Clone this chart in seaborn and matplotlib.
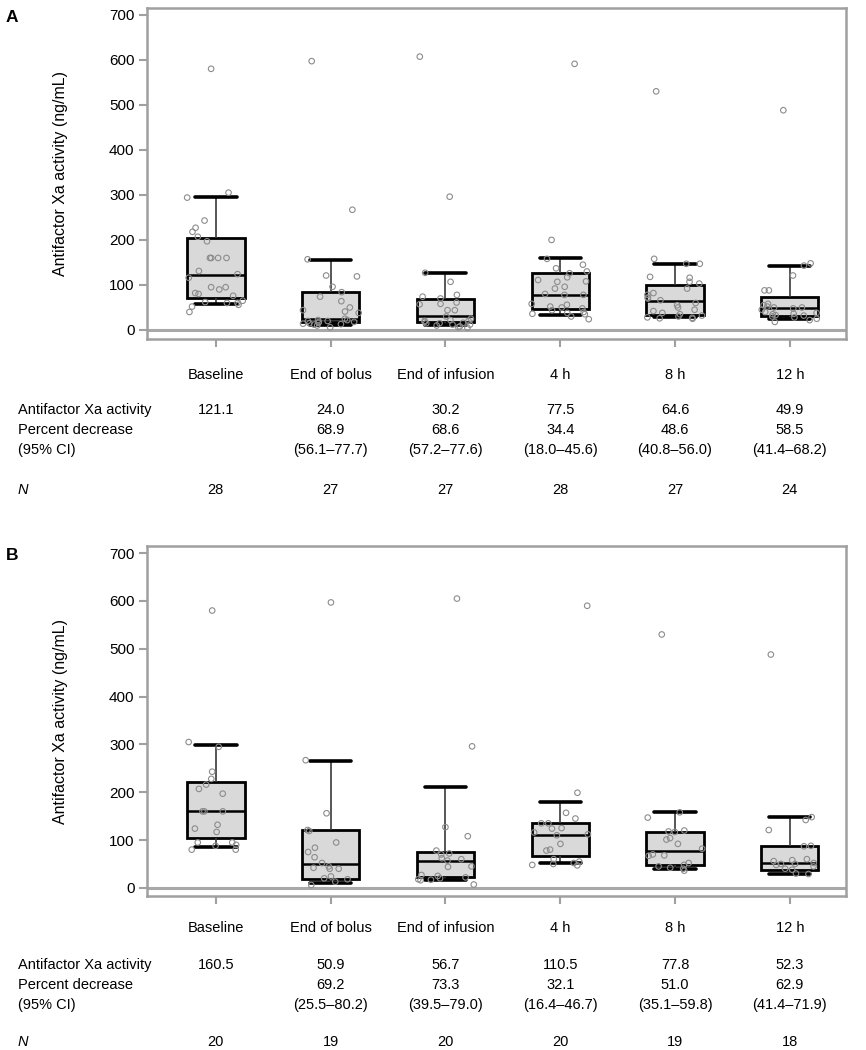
import numpy as np
import pandas as pd
import matplotlib
matplotlib.use("Agg")
import matplotlib.pyplot as plt
import matplotlib.transforms as mtransforms
import seaborn as sns

# 时间点
times = ["Baseline", "End of bolus", "End of infusion", "4 h", "8 h", "12 h"]

# 箱线图五数概括 (下须, Q1, 中位数, Q3, 上须)
box_a_lo = [58, 12, 12, 34, 29, 25]
box_a_q1 = [70, 18, 18, 47, 34, 31]
box_a_med = [121.1, 24.0, 30.2, 77.5, 64.6, 49.9]
box_a_q3 = [204, 84, 68, 126, 101, 73]
box_a_hi = [295, 156, 127, 159, 147, 143]

box_b_lo = [86, 11, 16, 51, 39, 28]
box_b_q1 = [105, 19, 22, 67, 48, 37]
box_b_med = [160.5, 50.9, 56.7, 110.5, 77.8, 52.3]
box_b_q3 = [221, 120, 74, 136, 116, 88]
box_b_hi = [299, 265, 211, 179, 158, 148]

# 个体数据点 (估计值)
pts_a = {
    "Baseline": [580, 305, 294, 243, 227, 218, 207, 197, 160, 160, 160, 160, 131, 124,
                 116, 95, 95, 90, 82, 80, 76, 65, 62, 60, 60, 56, 52, 40],
    "End of bolus": [597, 267, 157, 121, 119, 96, 84, 74, 64, 50, 44, 41, 38, 25, 22, 22,
                     20, 20, 18, 18, 16, 15, 14, 13, 12, 10, 6],
    "End of infusion": [607, 296, 127, 107, 78, 74, 70, 61, 58, 57, 44, 44, 30, 25, 22,
                        20, 20, 18, 16, 15, 15, 12, 10, 8, 6, 5, 12],
    "4 h": [591, 200, 158, 145, 137, 130, 126, 117, 111, 108, 107, 96, 92, 80, 78, 78,
            58, 56, 52, 50, 48, 44, 40, 38, 36, 35, 30, 24],
    "8 h": [530, 158, 147, 147, 118, 116, 107, 103, 92, 82, 78, 72, 70, 66, 60, 55, 50,
            45, 42, 38, 35, 32, 30, 28, 27, 26, 25],
    "12 h": [488, 148, 143, 121, 88, 88, 58, 55, 52, 50, 50, 48, 45, 40, 38, 36, 35, 33,
             32, 30, 28, 25, 22, 18],
}
pts_b = {
    "Baseline": [580, 305, 295, 243, 228, 216, 207, 197, 160, 160, 160, 132, 124, 117,
                 95, 95, 90, 88, 80, 80],
    "End of bolus": [597, 267, 156, 121, 119, 95, 84, 75, 64, 52, 45, 42, 40, 40, 24, 20,
                     18, 13, 6],
    "End of infusion": [605, 296, 127, 108, 78, 72, 70, 62, 60, 57, 45, 44, 27, 25, 22,
                        20, 18, 17, 16, 7],
    "4 h": [590, 199, 157, 145, 135, 135, 125, 124, 116, 112, 110, 92, 80, 78, 60, 55,
            52, 50, 48, 47],
    "8 h": [530, 158, 147, 120, 118, 117, 104, 101, 92, 82, 70, 68, 67, 52, 48, 45, 42,
            40, 36],
    "12 h": [488, 148, 142, 121, 88, 87, 60, 58, 56, 52, 50, 50, 48, 45, 40, 38, 30, 29],
}

# 表格
act_a = ["121.1", "24.0", "30.2", "77.5", "64.6", "49.9"]
pct_a = ["", "68.9", "68.6", "34.4", "48.6", "58.5"]
ci_a = ["", "(56.1\u201377.7)", "(57.2\u201377.6)", "(18.0\u201345.6)", "(40.8\u201356.0)", "(41.4\u201368.2)"]
n_a = ["28", "27", "27", "28", "27", "24"]

act_b = ["160.5", "50.9", "56.7", "110.5", "77.8", "52.3"]
pct_b = ["", "69.2", "73.3", "32.1", "51.0", "62.9"]
ci_b = ["", "(25.5\u201380.2)", "(39.5\u201379.0)", "(16.4\u201346.7)", "(35.1\u201359.8)", "(41.4\u201371.9)"]
n_b = ["20", "19", "20", "20", "19", "18"]

yticks = [0, 100, 200, 300, 400, 500, 600, 700]

sns.set_theme(style="white")
plt.rcParams["font.family"] = ["Liberation Sans", "DejaVu Sans"]
plt.rcParams["text.color"] = "black"
plt.rcParams["axes.labelcolor"] = "black"
plt.rcParams["xtick.color"] = "black"
plt.rcParams["ytick.color"] = "black"

NARROW = ["Liberation Sans Narrow", "Liberation Sans", "DejaVu Sans"]
FS = 10.5

W, H = 866, 1050
fig = plt.figure(figsize=(W / 100, H / 100), dpi=100)

FRAME = "#a0a0a0"


def box_frame(lo, q1, med, q3, hi):
    rows = []
    for i, t in enumerate(times):
        for v in (lo[i], q1[i], med[i], q3[i], hi[i]):
            rows.append({"Time": t, "Value": v})
    return pd.DataFrame(rows)


def pts_frame(pts):
    rows = []
    for t in times:
        for v in pts[t]:
            rows.append({"Time": t, "Value": v})
    return pd.DataFrame(rows)


def panel(top, bot, ylo, boxdf, ptdf, rows_y, table, letter, seed):
    ax = fig.add_axes([147 / W, 1 - bot / H, (846 - 147) / W, (bot - top) / H])
    ax.axhline(0, color="#a8a8a8", lw=2.2, zorder=1)
    sns.boxplot(data=boxdf, x="Time", y="Value", order=times, ax=ax,
                whis=(0, 100), showfliers=False, width=0.5, color="#d9d9d9",
                linecolor="black", capwidths=0.36,
                boxprops=dict(linewidth=2.0, edgecolor="black"),
                medianprops=dict(linewidth=1.8, color="black"),
                whiskerprops=dict(linewidth=1.2, color="#3a3a3a"),
                capprops=dict(linewidth=2.6, color="black"))
    np.random.seed(seed)
    sns.stripplot(data=ptdf, x="Time", y="Value", order=times, ax=ax,
                  jitter=0.25, size=4.0, color="#8a8a8a", zorder=4)
    for coll in ax.collections:
        coll.set_facecolor("none")
        coll.set_edgecolor("#8c8c8c")
        coll.set_linewidth(0.8)

    ax.set_xlim(-0.6, 5.49)
    ax.set_ylim(ylo, 715)
    ax.set_yticks(yticks)
    ax.set_yticklabels([str(v) for v in yticks], fontsize=11, family=NARROW)
    ax.set_xticks(range(len(times)))
    ax.set_xticklabels([])
    ax.set_xlabel("")
    ax.set_ylabel("Antifactor Xa activity (ng/mL)", fontsize=11.5)
    ax.yaxis.set_label_coords(-0.113, 0.5)
    ax.tick_params(axis="both", direction="out", length=6, width=1.5, color=FRAME,
                   labelcolor="black", left=True, bottom=True, pad=3)
    for s in ax.spines.values():
        s.set_color(FRAME)
        s.set_linewidth(1.8)

    tr = mtransforms.blended_transform_factory(ax.transData, fig.transFigure)
    ycat, yact, ypct, yci, yn = [1 - r / H for r in rows_y]
    act, pct, ci, n = table
    for i, t in enumerate(times):
        ax.text(i, ycat, t, transform=tr, ha="center", va="center", fontsize=FS)
        ax.text(i, yact, act[i], transform=tr, ha="center", va="center", fontsize=FS)
        ax.text(i, ypct, pct[i], transform=tr, ha="center", va="center", fontsize=FS)
        ax.text(i, yci, ci[i], transform=tr, ha="center", va="center", fontsize=FS)
        ax.text(i, yn, n[i], transform=tr, ha="center", va="center", fontsize=FS)
    fig.text(18 / W, yact, "Antifactor Xa activity", ha="left", va="center", fontsize=FS)
    fig.text(18 / W, ypct, "Percent decrease", ha="left", va="center", fontsize=FS)
    fig.text(18 / W, yci, "(95% CI)", ha="left", va="center", fontsize=FS)
    fig.text(18 / W, yn, "N", ha="left", va="center", fontsize=FS, style="italic")
    fig.text(6 / W, 1 - (top + 10) / H, letter, ha="left", va="center",
             fontsize=12.5, fontweight="bold", family=NARROW)
    return ax


panel(8, 339, -20, box_frame(box_a_lo, box_a_q1, box_a_med, box_a_q3, box_a_hi),
      pts_frame(pts_a), [375, 410, 430, 450, 490], (act_a, pct_a, ci_a, n_a), "A", 1)
panel(546, 896, -17, box_frame(box_b_lo, box_b_q1, box_b_med, box_b_q3, box_b_hi),
      pts_frame(pts_b), [928, 965, 985, 1005, 1042], (act_b, pct_b, ci_b, n_b), "B", 2)

fig.savefig("out.png", dpi=100)
plt.close(fig)
